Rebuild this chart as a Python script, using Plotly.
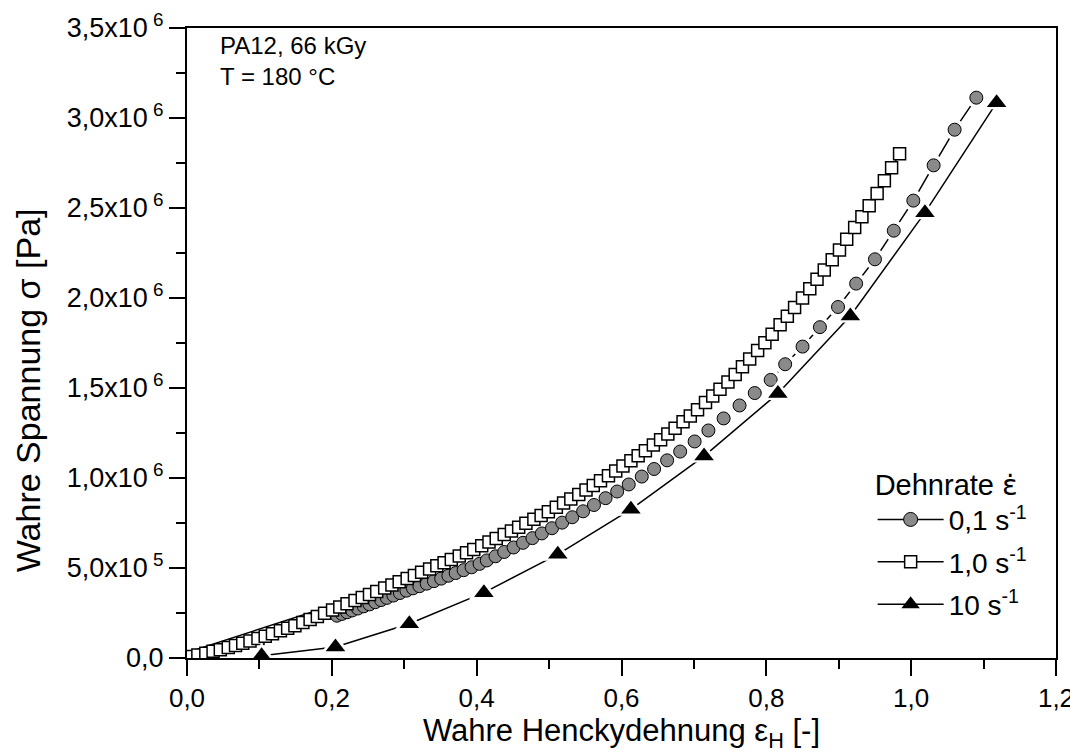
import plotly.graph_objects as go

# ---------------- data ----------------
# 0,1 s^-1 (grey circles)
circ_x = [0.207, 0.214, 0.221, 0.228, 0.236, 0.244, 0.252, 0.260, 0.268, 0.276,
          0.285, 0.294, 0.303, 0.312, 0.321, 0.331, 0.341, 0.351, 0.361, 0.371,
          0.382, 0.393, 0.404, 0.414, 0.426, 0.438, 0.451, 0.464, 0.477, 0.490,
          0.504, 0.518, 0.532, 0.547, 0.562, 0.578, 0.594, 0.610, 0.628, 0.645,
          0.663, 0.681, 0.701, 0.720, 0.741, 0.763, 0.784, 0.806, 0.826, 0.850,
          0.874, 0.899, 0.924, 0.950, 0.976, 1.003, 1.031, 1.060, 1.090]
circ_y = [0.235, 0.245, 0.254, 0.264, 0.275, 0.287, 0.298, 0.310, 0.322, 0.334,
          0.347, 0.361, 0.374, 0.387, 0.399, 0.413, 0.427, 0.441, 0.457, 0.472,
          0.488, 0.504, 0.523, 0.542, 0.565, 0.589, 0.614, 0.640, 0.666, 0.692,
          0.721, 0.752, 0.782, 0.815, 0.850, 0.888, 0.925, 0.964, 1.008, 1.050,
          1.098, 1.147, 1.203, 1.264, 1.331, 1.403, 1.472, 1.545, 1.632, 1.730,
          1.838, 1.950, 2.080, 2.215, 2.374, 2.541, 2.737, 2.935, 3.113]
# start of the 0,1 s^-1 curve (line only, markers hidden below the 1,0 s^-1 squares)
circ_start_x = [0.0, 0.176]
circ_start_y = [0.03, 0.26]

# 1,0 s^-1 (open squares)
sq_x = [0.005, 0.015, 0.026, 0.036, 0.046, 0.057, 0.067, 0.077, 0.087, 0.098,
        0.108, 0.118, 0.129, 0.139, 0.149, 0.160, 0.170, 0.180, 0.190, 0.201,
        0.211, 0.221, 0.232, 0.242, 0.252, 0.262, 0.273, 0.283, 0.293, 0.304,
        0.314, 0.324, 0.335, 0.345, 0.355, 0.365, 0.376, 0.386, 0.396, 0.407,
        0.417, 0.427, 0.438, 0.448, 0.458, 0.468, 0.479, 0.489, 0.499, 0.510,
        0.520, 0.530, 0.541, 0.551, 0.561, 0.571, 0.582, 0.592, 0.602, 0.613,
        0.623, 0.633, 0.644, 0.654, 0.664, 0.674, 0.685, 0.695, 0.705, 0.716,
        0.726, 0.736, 0.747, 0.757, 0.767, 0.777, 0.788, 0.798, 0.808, 0.819,
        0.829, 0.839, 0.850, 0.860, 0.870, 0.880, 0.891, 0.901, 0.911, 0.922,
        0.932, 0.942, 0.953, 0.963, 0.973, 0.984]
sq_y = [0.008, 0.017, 0.027, 0.037, 0.046, 0.058, 0.070, 0.082, 0.094, 0.108,
        0.121, 0.135, 0.151, 0.165, 0.179, 0.197, 0.214, 0.231, 0.248, 0.267,
        0.284, 0.301, 0.319, 0.336, 0.353, 0.370, 0.389, 0.406, 0.423, 0.442,
        0.459, 0.476, 0.494, 0.512, 0.529, 0.547, 0.567, 0.585, 0.603, 0.624,
        0.644, 0.664, 0.686, 0.706, 0.727, 0.748, 0.771, 0.792, 0.813, 0.838,
        0.861, 0.884, 0.909, 0.933, 0.959, 0.985, 1.013, 1.039, 1.066, 1.096,
        1.124, 1.152, 1.183, 1.213, 1.245, 1.277, 1.312, 1.344, 1.379, 1.419,
        1.456, 1.493, 1.534, 1.575, 1.618, 1.661, 1.708, 1.751, 1.798, 1.851,
        1.899, 1.947, 2.000, 2.052, 2.104, 2.156, 2.213, 2.266, 2.326, 2.392,
        2.452, 2.512, 2.581, 2.652, 2.723, 2.801]

# 10 s^-1 (black triangles)
tri_x = [0.103, 0.205, 0.307, 0.410, 0.512, 0.613, 0.714, 0.816, 0.916, 1.019, 1.118]
tri_y = [0.012, 0.061, 0.190, 0.363, 0.576, 0.826, 1.122, 1.470, 1.900, 2.474, 3.085]

SCALE = 1e6  # values above are in 10^6 Pa

x_ticks = [0.0, 0.2, 0.4, 0.6, 0.8, 1.0, 1.2]
x_ticktext = ["0,0", "0,2", "0,4", "0,6", "0,8", "1,0", "1,2"]
x_minor = [0.1, 0.3, 0.5, 0.7, 0.9, 1.1]
y_ticks = [0.0, 0.5e6, 1.0e6, 1.5e6, 2.0e6, 2.5e6, 3.0e6, 3.5e6]
y_ticktext = ["0,0", "5,0x10<sup> 5</sup>", "1,0x10<sup> 6</sup>", "1,5x10<sup> 6</sup>",
              "2,0x10<sup> 6</sup>", "2,5x10<sup> 6</sup>", "3,0x10<sup> 6</sup>",
              "3,5x10<sup> 6</sup>"]
y_minor = [0.25e6, 0.75e6, 1.25e6, 1.75e6, 2.25e6, 2.75e6, 3.25e6]

names = ["0,1 s<sup>-1</sup>", "1,0 s<sup>-1</sup>", "10 s<sup>-1</sup>"]
legend_title = 'Dehnrate <span style="font-family:DejaVu Sans">ε̇</span>'

FONT = "Liberation Sans, Arial, sans-serif"
GREY = "#8a8a8a"

def sc(v):
    return [a * SCALE for a in v]

fig = go.Figure()

# ---- 0,1 s^-1 : line with gaps around symbols ----
fig.add_trace(go.Scatter(x=circ_start_x + circ_x, y=sc(circ_start_y + circ_y), mode="lines",
                         line=dict(color="black", width=1.5), showlegend=False, hoverinfo="skip"))
fig.add_trace(go.Scatter(x=circ_x, y=sc(circ_y), mode="markers",
                         marker=dict(symbol="circle", size=21, color="white"),
                         showlegend=False, hoverinfo="skip"))
fig.add_trace(go.Scatter(x=circ_x, y=sc(circ_y), mode="markers",
                         marker=dict(symbol="circle", size=13, color=GREY,
                                     line=dict(color="black", width=1)),
                         showlegend=False))
# legend entry
fig.add_trace(go.Scatter(x=[None], y=[None], mode="lines+markers", name=names[0],
                         line=dict(color="black", width=1.5),
                         marker=dict(symbol="circle", size=14, color=GREY,
                                     line=dict(color="black", width=1)),
                         legendgroup="a", legendrank=1))

# ---- 1,0 s^-1 ----
fig.add_trace(go.Scatter(x=sq_x, y=sc(sq_y), mode="lines+markers", name=names[1],
                         line=dict(color="black", width=1.5),
                         marker=dict(symbol="square", size=12, color="white",
                                     line=dict(color="black", width=1.5)),
                         legendgroup="b", legendrank=2))

# ---- 10 s^-1 ----
fig.add_trace(go.Scatter(x=tri_x, y=sc(tri_y), mode="lines",
                         line=dict(color="black", width=1.5), showlegend=False, hoverinfo="skip"))
fig.add_trace(go.Scatter(x=tri_x, y=sc(tri_y), mode="markers",
                         marker=dict(symbol="triangle-up", size=26, color="white"),
                         showlegend=False, hoverinfo="skip", cliponaxis=False))
fig.add_trace(go.Scatter(x=tri_x, y=sc(tri_y), mode="markers",
                         marker=dict(symbol="triangle-up", size=17, color="black"),
                         showlegend=False, cliponaxis=False))
fig.add_trace(go.Scatter(x=[None], y=[None], mode="lines+markers", name=names[2],
                         line=dict(color="black", width=1.5),
                         marker=dict(symbol="triangle-up", size=16, color="black"),
                         legendgroup="c", legendrank=3))

axis_common = dict(showgrid=False, zeroline=False, showline=True, linecolor="black",
                   linewidth=2, mirror=True, ticks="outside", tickwidth=2, ticklen=16,
                   tickcolor="black", automargin=False)

fig.update_layout(
    width=1070, height=746,
    margin=dict(l=179, r=22, t=20, b=96, autoexpand=False),
    paper_bgcolor="white", plot_bgcolor="white",
    font=dict(family=FONT, size=24, color="black"),
    xaxis=dict(range=[0, 1.2], tickvals=x_ticks, ticktext=x_ticktext,
               tickfont=dict(family=FONT, size=26, color="black"),
               minor=dict(tickvals=x_minor, ticks="outside", ticklen=9, tickwidth=2,
                          tickcolor="black"),
               title=dict(text="Wahre Henckydehnung ε<sub>H</sub> [-]",
                          font=dict(family=FONT, size=31), standoff=4),
               **axis_common),
    yaxis=dict(range=[0, 3.5e6], tickvals=y_ticks, ticktext=y_ticktext,
               tickfont=dict(family=FONT, size=27, color="black"),
               minor=dict(tickvals=y_minor, ticks="outside", ticklen=9, tickwidth=2,
                          tickcolor="black"),
               **axis_common),
    legend=dict(x=0.789, y=0.319, xanchor="left", yanchor="top",
                title=dict(text=legend_title, font=dict(family=FONT, size=29)),
                font=dict(family=FONT, size=28), bgcolor="rgba(0,0,0,0)",
                itemwidth=66, traceorder="grouped", tracegroupgap=3),
    showlegend=True,
)

fig.add_annotation(xref="paper", yref="paper", x=0.036, y=0.997, xanchor="left", yanchor="top",
                   text="PA12, 66 kGy<br>T = 180 °C", showarrow=False, align="left",
                   font=dict(family=FONT, size=24, color="black"))
fig.add_annotation(xref="paper", yref="paper", x=-0.183, y=0.425, xanchor="center",
                   yanchor="middle", textangle=-90, text="Wahre Spannung σ [Pa]",
                   showarrow=False, font=dict(family=FONT, size=34, color="black"))

fig.write_html("out.html")
